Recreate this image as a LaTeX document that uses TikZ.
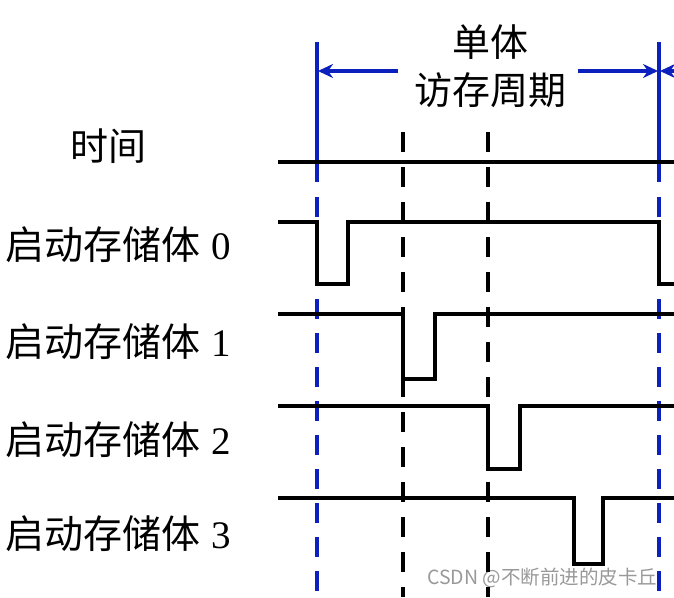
\documentclass[tikz,border=0pt]{standalone}
\usepackage{fontspec}
\setmainfont{Liberation Serif}
\newfontfamily\cjk{Noto Sans CJK SC}
\usepackage{tikz}
\usetikzlibrary{arrows.meta}
\usetikzlibrary{positioning}
\usetikzlibrary{calc}
\definecolor{cycblue}{RGB}{12,32,190}
\tikzset{
  sig/.style = {line width=3.6pt, black, line join=miter},% signal line
  tick_k/.style = {line width=3.6pt, black, dash pattern=on 20pt off 15pt},% black time mark
  tick_b/.style = {line width=3.6pt, cycblue, dash pattern=on 20pt off 14pt},% blue cycle mark
  cyc/.style = {line width=3.6pt, cycblue, -{Stealth[length=15pt,width=14pt]}},
  lbl/.style = {inner sep=0pt, anchor=west, font=\fontsize{39}{39}\selectfont},
  ttl/.style = {inner sep=0pt, font=\cjk\fontsize{38}{38}\selectfont},
  wmk/.style = {inner sep=0pt, anchor=west, text=black!40,
    font=\cjk\fontsize{19.5}{19.5}\selectfont}
}

\begin{document}
\begin{tikzpicture}[x=1pt,y=-1pt]
\useasboundingbox (0,0) rectangle (674,597);

% labels
\node [ttl] (tm) at (108,146) {时间};
\node [lbl] (b0) at (5,245) {{\cjk 启动存储体}\hspace{0.3em}0};
\node [lbl] (b1) at (5,342) {{\cjk 启动存储体}\hspace{0.3em}1};
\node [lbl] (b2) at (5,440) {{\cjk 启动存储体}\hspace{0.3em}2};
\node [lbl] (b3) at (5,534) {{\cjk 启动存储体}\hspace{0.3em}3};
\node [ttl] (t1) at (490,42) {单体};
\node [ttl] (t2) at (490,90) {访存周期};
\node [wmk] (wm) at (427,578) {CSDN @不断前进的皮卡丘};

% cycle marks
\draw [line width=3.6pt, cycblue] (317,42) -- (317,182);
\draw [line width=3.6pt, cycblue] (659,42) -- (659,182);
\draw [tick_b] (317,197) -- (317,597);
\draw [tick_b] (659,197) -- (659,597);
\draw [tick_k] (403,132) -- (403,597);
\draw [tick_k] (488,132) -- (488,597);

% access cycle arrows
\coordinate (AL) at (398,71);
\coordinate (AR) at (578,71);
\coordinate (L) at (318,71);
\coordinate (R) at (658,71);
\coordinate (E) at (674,71);
\draw [cyc] (AL) -- (L);
\draw [cyc] (AR) -- (R);
\draw [cyc] (E) -- (660,71);

% signals
\draw [sig] (278,162) -- (674,162);
\draw [sig] (278,222) -- (317,222) -- (317,284) -- (348,284) -- (348,222)
  -- (659,222) -- (659,284) -- (674,284);
\draw [sig] (278,314) -- (403,314) -- (403,379) -- (435,379) -- (435,314) -- (674,314);
\draw [sig] (278,406) -- (488,406) -- (488,469) -- (520,469) -- (520,406) -- (674,406);
\draw [sig] (278,498) -- (574,498) -- (574,564) -- (603,564) -- (603,498) -- (674,498);
\end{tikzpicture}
\end{document}
